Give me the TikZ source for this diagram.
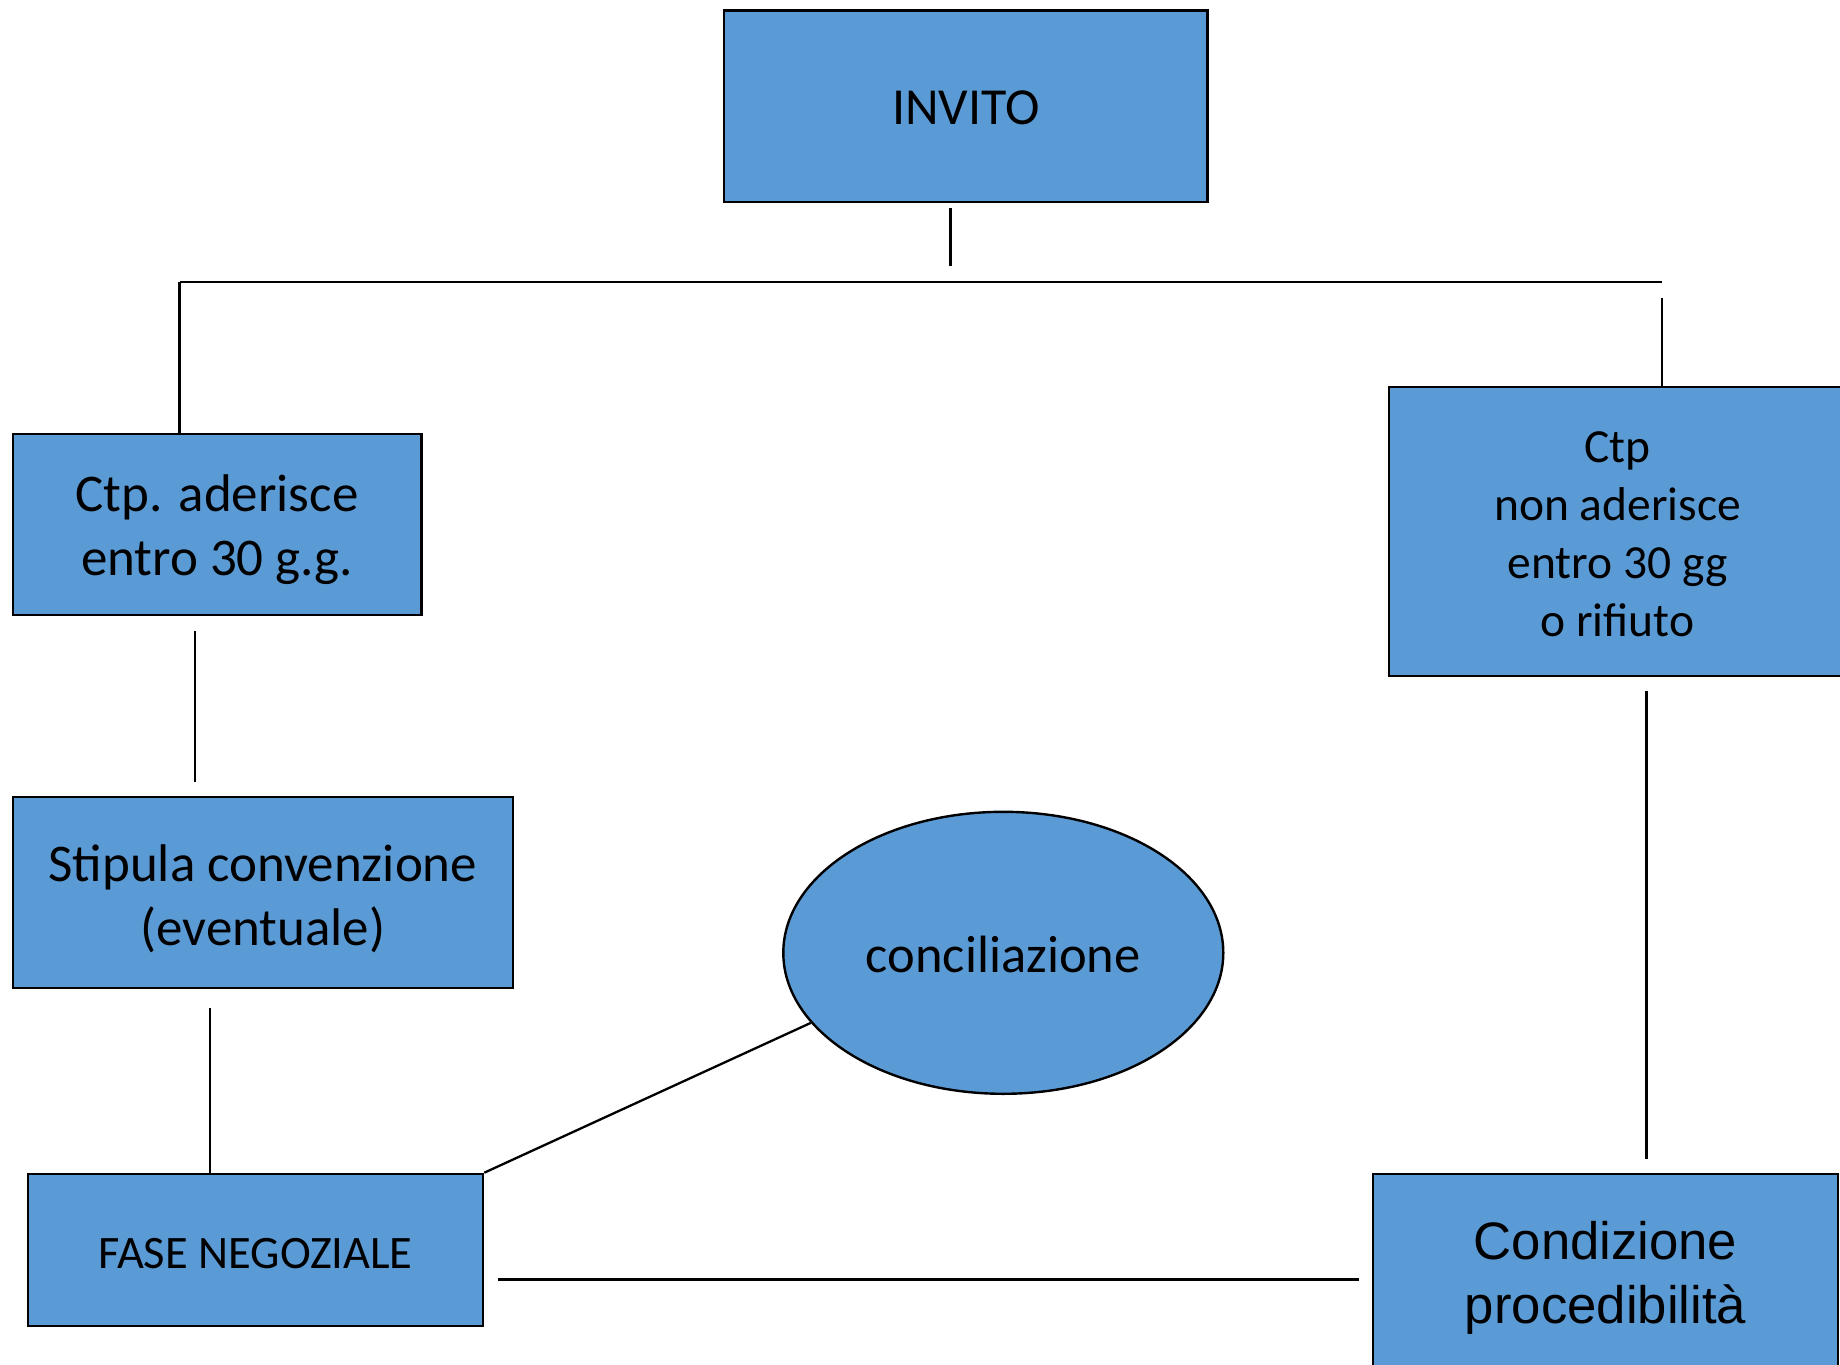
\documentclass[tikz,border=0pt]{standalone}
\usepackage{fontspec}
\setmainfont{Carlito}
\newfontfamily\arialfont{Liberation Sans}
\usetikzlibrary{shapes.geometric}
\definecolor{boxblue}{HTML}{5B9BD5}
% lower the text block by half of #1 inside its node
\newcommand\lowtext[2]{\raisebox{0pt}[\dimexpr\height+#1\relax][\depth]{\begin{tabular}{@{}c@{}}#2\end{tabular}}}
\begin{document}
\begin{tikzpicture}[x=1pt,y=-1pt,
  blk/.style={draw=black, line width=2.6pt, fill=boxblue, rectangle, inner sep=0pt},
  oval/.style={draw=black, line width=2.4pt, fill=boxblue, ellipse, inner sep=0pt},
  conn/.style={draw=black, line width=2.3pt}]
\useasboundingbox (0,0) rectangle (1840,1365);
\clip (0,0) rectangle (1840,1365);
\fill[white] (0,0) rectangle (1840,1365);

% nodes
\node[blk, minimum width=483.5pt, minimum height=191.4pt, font=\fontsize{52}{62}\selectfont] (invito) at (965.8,106.3) {\lowtext{11.6pt}{INVITO}};
\node[blk, minimum width=408.4pt, minimum height=181pt, font=\fontsize{53}{63.5}\selectfont] (aderisce) at (217.1,524.5) {\lowtext{13pt}{Ctp. aderisce\\entro 30 g.g.}};
\node[blk, minimum width=499.9pt, minimum height=191.2pt, font=\fontsize{53}{63.5}\selectfont] (stipula) at (262.85,892.4) {\lowtext{16.6pt}{Stipula convenzione\\(eventuale)}};
\node[blk, minimum width=455pt, minimum height=152pt, font=\fontsize{46.5}{56}\selectfont] (fase) at (255.5,1250) {\lowtext{14pt}{FASE NEGOZIALE}};
\node[blk, minimum width=457pt, minimum height=289pt, font=\fontsize{47.5}{58}\selectfont] (nonader) at (1617.5,531.5) {\lowtext{12pt}{Ctp\\non aderisce\\entro 30 gg\\o rifiuto}};
\node[blk, minimum width=465pt, minimum height=202pt, font=\arialfont\fontsize{52.7}{64.4}\selectfont] (condiz) at (1605.5,1275) {\lowtext{7pt}{Condizione\\procedibilità}};
\node[oval, minimum width=440pt, minimum height=282pt, font=\fontsize{52.5}{63}\selectfont] (concil) at (1003.3,952.8) {\lowtext{14pt}{conciliazione}};

% connector end points
\coordinate (t1) at (950.5,208);
\coordinate (t2) at (950.5,266);
\coordinate (hl) at (179.5,282);
\coordinate (hr) at (1661.7,282);
\coordinate (r1) at (1661.7,298);
\coordinate (a1) at (194.8,631);
\coordinate (a2) at (194.8,781.5);
\coordinate (s1) at (210,1008);
\coordinate (b1) at (498,1279.5);
\coordinate (b2) at (1359,1279.5);
\coordinate (c1) at (1646.5,691);
\coordinate (c2) at (1646.5,1159);

% connectors
\draw[conn] (t1) -- (t2);
\draw[conn] (hl) -- (hr);
\draw[conn] (hl) -- (hl |- aderisce.north);
\draw[conn] (r1) -- (r1 |- nonader.north);
\draw[conn] (a1) -- (a2);
\draw[conn] (s1) -- (s1 |- fase.north);
\draw[conn] (fase.north east) -- (concil.200);
\draw[conn] (b1) -- (b2);
\draw[conn] (c1) -- (c2);
\end{tikzpicture}
\end{document}
